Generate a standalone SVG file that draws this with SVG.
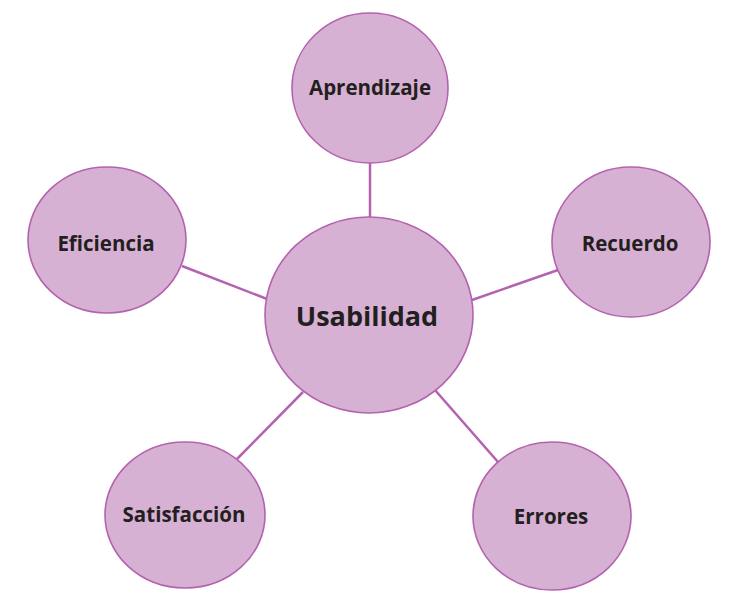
<svg xmlns="http://www.w3.org/2000/svg" width="734" height="615" viewBox="0 0 734 615">
<style>
.node{fill:#d7b1d4;stroke:#b462b0;stroke-width:1.6}
.lbl{font-family:"Open Sans","Noto Sans","DejaVu Sans",sans-serif;font-weight:700;fill:#231f20;text-anchor:middle}
.sm{font-size:20.5px}
.lg{font-size:27px}
.conn line{stroke:#b462b0;stroke-width:2.5}
</style>
<rect width="734" height="615" fill="#ffffff"/>
<g id="connectors" class="conn">
<line x1="370" y1="162" x2="370" y2="218"/>
<line x1="182" y1="266" x2="267" y2="299"/>
<line x1="472" y1="300" x2="558" y2="270"/>
<line x1="237" y1="459" x2="303" y2="392"/>
<line x1="435" y1="390" x2="498" y2="462"/>
</g>
<g id="usabilidad"><ellipse class="node" cx="369" cy="315" rx="104" ry="98"/><text class="lbl lg" x="367" y="326">Usabilidad</text></g>
<g id="aprendizaje"><ellipse class="node" cx="370" cy="88" rx="78" ry="75"/><text class="lbl sm" x="370" y="95">Aprendizaje</text></g>
<g id="eficiencia"><ellipse class="node" cx="107" cy="240" rx="79" ry="73"/><text class="lbl sm" x="106" y="251">Eficiencia</text></g>
<g id="recuerdo"><ellipse class="node" cx="631" cy="242" rx="79" ry="75"/><text class="lbl sm" x="630" y="251">Recuerdo</text></g>
<g id="satisfaccion"><ellipse class="node" cx="185" cy="515" rx="80" ry="73"/><text class="lbl sm" x="184" y="522">Satisfacción</text></g>
<g id="errores"><ellipse class="node" cx="552" cy="516" rx="79" ry="74"/><text class="lbl sm" x="551" y="524">Errores</text></g>
</svg>
